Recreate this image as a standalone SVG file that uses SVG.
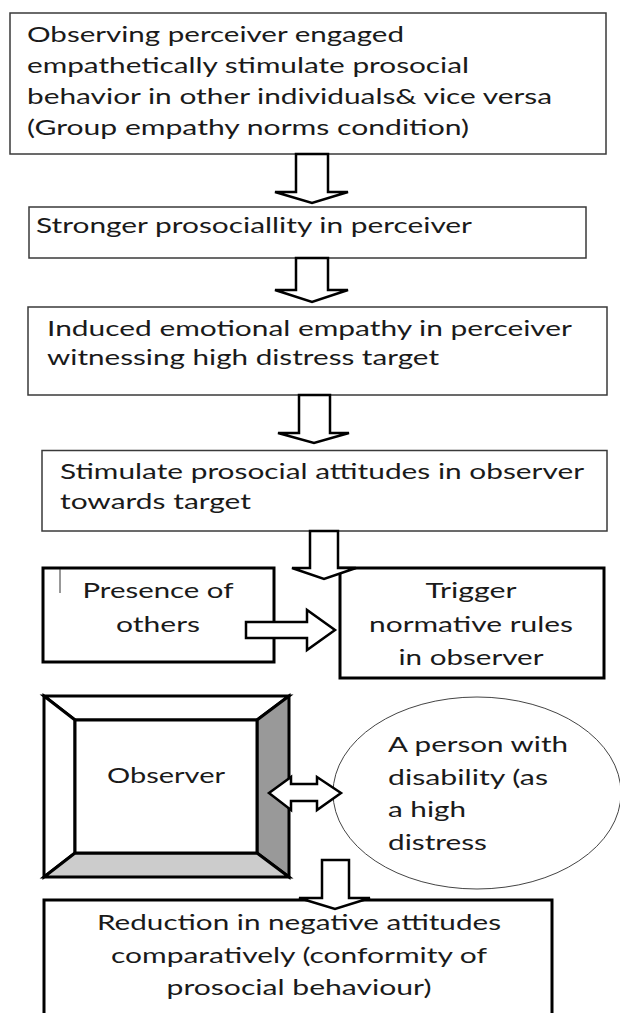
<svg xmlns="http://www.w3.org/2000/svg" width="620" height="1013" viewBox="0 0 620 1013">
<style>
.t{font-family:Lato,"Open Sans","Liberation Sans",sans-serif;font-size:20.5px;fill:#1a1a1a}
.m{text-anchor:middle}
.thin{fill:#fff;stroke:#3a3a3a;stroke-width:1.5}
.thick{fill:#fff;stroke:#000;stroke-width:3}
.arr{fill:#fff;stroke:#000;stroke-width:2.5;stroke-linejoin:miter}
</style>
<rect width="620" height="1013" fill="#fff"/>
<g id="n1">
<rect class="thin" x="10" y="13" width="596" height="141"/>
<text class="t" x="27" y="42" textLength="377" lengthAdjust="spacingAndGlyphs">Observing perceiver engaged</text>
<text class="t" x="27" y="73" textLength="442" lengthAdjust="spacingAndGlyphs">empathetically stimulate prosocial</text>
<text class="t" x="27" y="104" textLength="525" lengthAdjust="spacingAndGlyphs">behavior in other individuals&amp; vice versa</text>
<text class="t" x="27" y="135" textLength="442" lengthAdjust="spacingAndGlyphs">(Group empathy norms condition)</text>
</g>
<g id="n2">
<rect class="thin" x="29" y="207" width="557" height="51"/>
<text class="t" x="36" y="233" textLength="436" lengthAdjust="spacingAndGlyphs">Stronger prosociallity in perceiver</text>
</g>
<g id="n3">
<rect class="thin" x="28" y="307" width="579" height="88"/>
<text class="t" x="47" y="336" textLength="525" lengthAdjust="spacingAndGlyphs">Induced emotional empathy in perceiver</text>
<text class="t" x="47" y="365" textLength="392" lengthAdjust="spacingAndGlyphs">witnessing high distress target</text>
</g>
<g id="n4">
<rect class="thin" x="42" y="450.5" width="565" height="80.5"/>
<text class="t" x="60" y="479" textLength="524" lengthAdjust="spacingAndGlyphs">Stimulate prosocial attitudes in observer</text>
<text class="t" x="60" y="509" textLength="191" lengthAdjust="spacingAndGlyphs">towards target</text>
</g>
<g id="n5">
<rect class="thick" x="43" y="568" width="231" height="94"/>
<line x1="60" y1="569" x2="60" y2="593" stroke="#333" stroke-width="1"/>
<text class="t m" x="158" y="598" textLength="151" lengthAdjust="spacingAndGlyphs">Presence of</text>
<text class="t m" x="158" y="632" textLength="84" lengthAdjust="spacingAndGlyphs">others</text>
</g>
<g id="n6">
<rect class="thick" x="340" y="568" width="264" height="110"/>
<text class="t m" x="471" y="598" textLength="91" lengthAdjust="spacingAndGlyphs">Trigger</text>
<text class="t m" x="471" y="632" textLength="204" lengthAdjust="spacingAndGlyphs">normative rules</text>
<text class="t m" x="471" y="665" textLength="145" lengthAdjust="spacingAndGlyphs">in observer</text>
</g>
<g id="n7">
<g stroke="#000" stroke-width="3" stroke-linejoin="miter">
<polygon points="44,696 289,696 257,720 75,720" fill="#fff"/>
<polygon points="44,696 75,720 75,853 44,877" fill="#fff"/>
<polygon points="289,696 289,877 257,853 257,720" fill="#999"/>
<polygon points="44,877 289,877 257,853 75,853" fill="#ccc"/>
<rect x="75" y="720" width="182" height="133" fill="#fff"/>
</g>
<text class="t m" x="166" y="783" textLength="118" lengthAdjust="spacingAndGlyphs">Observer</text>
</g>
<g id="n8">
<ellipse cx="477" cy="793" rx="144" ry="96" fill="#fff" stroke="#444" stroke-width="1"/>
<text class="t" x="388" y="752" textLength="180" lengthAdjust="spacingAndGlyphs">A person with</text>
<text class="t" x="388" y="785" textLength="160" lengthAdjust="spacingAndGlyphs">disability (as</text>
<text class="t" x="388" y="817" textLength="78" lengthAdjust="spacingAndGlyphs">a high</text>
<text class="t" x="388" y="850" textLength="99" lengthAdjust="spacingAndGlyphs">distress</text>
</g>
<g id="n9">
<rect class="thick" x="44" y="900" width="508" height="130"/>
<text class="t m" x="299" y="930" textLength="404" lengthAdjust="spacingAndGlyphs">Reduction in negative attitudes</text>
<text class="t m" x="299" y="963" textLength="376" lengthAdjust="spacingAndGlyphs">comparatively (conformity of</text>
<text class="t m" x="299" y="995" textLength="265" lengthAdjust="spacingAndGlyphs">prosocial behaviour)</text>
</g>
<g id="connectors">
<polygon class="arr" points="296,154 328,154 328,192 348,192 312,203 275,192 296,192"/>
<polygon class="arr" points="296,258 328,258 328,290 348,290 312,302 275,290 296,290"/>
<polygon class="arr" points="299,395 330,395 330,433 349,433 314,443 278,433 299,433"/>
<polygon class="arr" points="310,531 338,531 338,568 356,568 324,579 292,568 310,568"/>
<polygon class="arr" points="246,622 307,622 307,610 335,630 307,650 307,638 246,638"/>
<polygon class="arr" points="269,793 291,777 291,784 317,784 317,777 341,793 317,810 317,801 291,801 291,810"/>
<polygon class="arr" points="322,860 349,860 349,898 370,898 335,909 299,898 322,898"/>
</g>
</svg>
